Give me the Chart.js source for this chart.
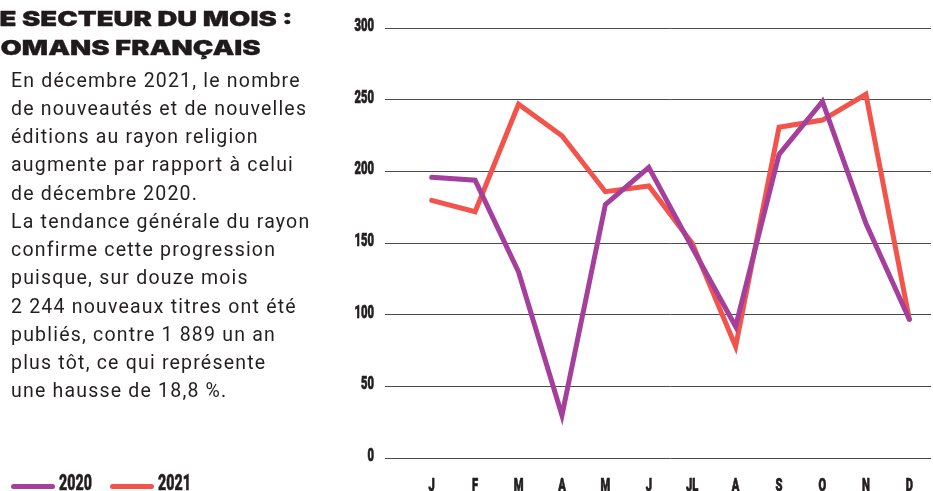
<!DOCTYPE html>
<html lang="fr">
<head>
<meta charset="utf-8">
<script src="https://cdn.jsdelivr.net/npm/chart.js@4/dist/chart.umd.min.js"></script>
<style>
  html, body { margin:0; padding:0; background:#fff; }
  #page { position:relative; width:933px; height:491px; overflow:hidden; background:#fff; }
  #chartBox { position:absolute; left:0; top:0; width:933px; height:491px; }
  .title { position:absolute; white-space:nowrap; font-family:'Inter', 'Lato', sans-serif; font-weight:900;
           font-size:20.5px; line-height:20.5px; color:#1f1a1b; transform-origin:0 0; -webkit-text-stroke:0.3px #1f1a1b; }
  #body { position:absolute; left:11px; top:66.5px; font-family:'Roboto', sans-serif; font-size:19.5px;
          line-height:28.25px; color:#231f20; letter-spacing:1.2px; white-space:nowrap; }
  .leg-line { position:absolute; height:5px; border-radius:3px; width:44px; }
  .leg-text { position:absolute; font-family:'Roboto', sans-serif; font-weight:900; font-size:22.5px;
              line-height:22.5px; color:#231f20; transform-origin:0 0; transform:scaleX(0.63);
              white-space:nowrap; -webkit-text-stroke:0.5px #231f20; }
</style>
</head>
<body>
<div id="page">
  <div id="chartBox"><canvas id="c"></canvas></div>
  <div class="title" id="t1"><span id="t1cut">L</span><span id="t1vis">E SECTEUR DU MOIS :</span></div>
  <div class="title" id="t2"><span id="t2cut">R</span><span id="t2vis">OMANS FRANÇAIS</span></div>
  <div id="body"></div>
  <div id="legend"></div>
</div>
<script>
// ---- data ----
const months = ['J','F','M','A','M','J','JL','A','S','O','N','D'];
const values2020 = [196, 194, 130, 30, 177, 203, 147, 92, 212, 249, 164, 97];
const values2021 = [180, 172, 247, 225, 186, 190, 150, 78, 231, 236, 254, 97];
const yTicks = [0, 50, 100, 150, 200, 250, 300];
const seriesNames = ['2020', '2021'];
const bodyLines = [
  'En décembre 2021, le nombre',
  'de nouveautés et de nouvelles',
  'éditions au rayon religion',
  'augmente par rapport à celui',
  'de décembre 2020.',
  'La tendance générale du rayon',
  'confirme cette progression',
  'puisque, sur douze mois',
  '2 244 nouveaux titres ont été',
  'publiés, contre 1 889 un an',
  'plus tôt, ce qui représente',
  'une hausse de 18,8 %.'
];

// ---- styles ----
const PURPLE = '#a4409b';
const RED = '#f2544b';
const INK = '#231f20';
const seriesColors = [PURPLE, RED];

// title: wide heavy lettering, first letter cut by the left edge
const t1 = document.getElementById('t1'), t2 = document.getElementById('t2');
const titleScale = 293 / document.getElementById('t1vis').getBoundingClientRect().width;
[[t1, 't1cut', 9.4], [t2, 't2cut', 37.8]].forEach(([el, cutId, top]) => {
  const cw = document.getElementById(cutId).getBoundingClientRect().width;
  el.style.transform = 'scaleX(' + titleScale + ')';
  el.style.left = (-cw * titleScale) + 'px';
  el.style.top = top + 'px';
});

// body text
const body = document.getElementById('body');
bodyLines.forEach(l => { const d = document.createElement('div'); d.textContent = l; body.appendChild(d); });

// legend
const legend = document.getElementById('legend');
const legPos = [{line:11, text:59}, {line:110, text:158}];
seriesNames.forEach((name, i) => {
  const ln = document.createElement('div');
  ln.className = 'leg-line';
  ln.style.left = legPos[i].line + 'px';
  ln.style.top = '484.2px';
  ln.style.background = seriesColors[i];
  legend.appendChild(ln);
  const tx = document.createElement('div');
  tx.className = 'leg-text';
  tx.style.left = legPos[i].text + 'px';
  tx.style.top = '471px';
  tx.textContent = name;
  legend.appendChild(tx);
});

// condensed axis labels, placed through the chart's own scales
const condensedLabels = {
  id: 'condensedLabels',
  afterDraw(chart) {
    const ctx = chart.ctx, ys = chart.scales.y, xs = chart.scales.x;
    ctx.save();
    ctx.fillStyle = INK;
    ctx.strokeStyle = INK;
    ctx.lineWidth = 0.7;
    ctx.font = '900 18px Roboto';
    ctx.textBaseline = 'alphabetic';
    const yLabelRight = chart.chartArea.left - ys.options.grid.tickLength - 11;
    ys.ticks.forEach(t => {
      const py = ys.getPixelForValue(t.value);
      ctx.save();
      ctx.translate(yLabelRight, py + 2.7);
      ctx.scale(0.62, 1);
      ctx.textAlign = 'right';
      ctx.fillText(String(t.value), 0, 0);
      ctx.strokeText(String(t.value), 0, 0);
      ctx.restore();
    });
    xs.getLabels().forEach((lab, i) => {
      const px = xs.getPixelForTick(i);
      ctx.save();
      ctx.translate(px, chart.chartArea.bottom + 32.2);
      ctx.scale(0.62, 1);
      ctx.textAlign = 'center';
      ctx.fillText(lab, 0, 0);
      ctx.strokeText(lab, 0, 0);
      ctx.restore();
    });
    ctx.restore();
  }
};

new Chart(document.getElementById('c'), {
  type: 'line',
  data: {
    labels: months,
    datasets: [
      { label: seriesNames[0], data: values2020, borderColor: PURPLE, backgroundColor: PURPLE,
        borderWidth: 5, pointRadius: 0, tension: 0, borderCapStyle: 'round', borderJoinStyle: 'miter', fill: false },
      { label: seriesNames[1], data: values2021, borderColor: RED, backgroundColor: RED,
        borderWidth: 5, pointRadius: 0, tension: 0, borderCapStyle: 'round', borderJoinStyle: 'miter', fill: false }
    ]
  },
  plugins: [condensedLabels],
  options: {
    responsive: true,
    maintainAspectRatio: false,
    animation: false,
    layout: { padding: { left: 350, right: 2, top: 28.3, bottom: 0 } },
    plugins: { legend: { display: false }, tooltip: { enabled: false } },
    scales: {
      x: {
        offset: true,
        grid: { display: false, drawTicks: false },
        border: { display: false },
        ticks: { display: false, autoSkip: false, maxRotation: 0 },
        afterFit(s) { s.height = 32.7; }
      },
      y: {
        min: 0, max: 300,
        afterBuildTicks(s) { s.ticks = yTicks.map(v => ({ value: v })); },
        grid: { color: '#4a4a4a', lineWidth: 1, tickLength: 25, drawTicks: true },
        border: { display: false },
        ticks: { display: false },
        afterFit(s) { s.width = 60; }
      }
    }
  }
});
</script>
</body>
</html>
